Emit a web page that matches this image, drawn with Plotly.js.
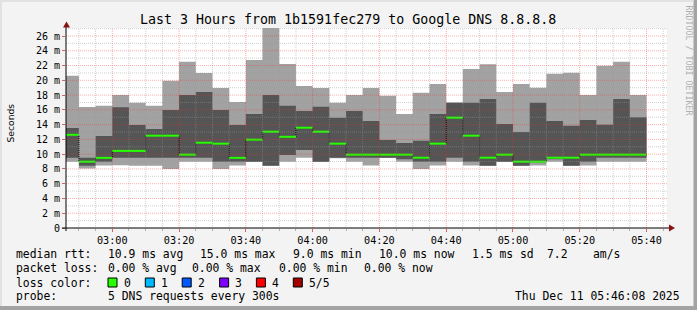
<!DOCTYPE html>
<html><head><meta charset="utf-8">
<script src="https://cdn.plot.ly/plotly-3.0.1.min.js"></script>
<style>html,body{margin:0;padding:0;background:#f3f3f3;}#chart{width:697px;height:310px;}</style>
</head><body><div id="chart"></div>
<script>
// ---- data ----
const graphStart = "2025-12-11 02:46:08";
const graphEnd = "2025-12-11 05:46:08";
const sampleClock = ["02:50","02:55","03:00","03:05","03:10","03:15","03:20","03:25","03:30","03:35",
  "03:40","03:45","03:50","03:55","04:00","04:05","04:10","04:15","04:20","04:25",
  "04:30","04:35","04:40","04:45","04:50","04:55","05:00","05:05","05:10","05:15",
  "05:20","05:25","05:30","05:35","05:40"];
// values in ms
const rttMin    = [8.98,8.06,8.46,8.50,8.44,8.44,8.00,8.98,8.98,7.99, 8.46,8.95,8.42,8.98,9.52,8.95,9.45,8.98,8.46,9.48, 8.98,8.00,8.46,8.98,8.46,8.42,8.95,8.42,8.46,8.98, 8.42,8.46,8.98,8.98,8.98];
const rttLow    = [9.52,8.42,8.98,9.52,9.52,9.52,9.52,9.52,9.52,8.98, 8.98,8.98,8.44,9.88,10.56,8.98,9.52,9.52,9.52,9.52, 9.30,8.98,8.98,9.52,8.98,8.44,8.98,8.44,8.90,9.30, 8.44,8.98,9.52,9.52,9.52];
const rttMedian = [12.62,8.98,9.50,10.44,10.44,12.50,12.50,9.93,11.55,11.42, 9.50,11.96,13.04,12.35,13.58,13.04,11.42,9.93,9.93,9.93, 9.93,9.52,11.42,14.94,12.50,9.52,9.93,8.98,8.98,9.52, 9.52,9.93,9.93,9.93,9.93];
const rttHigh   = [13.54,9.52,12.46,16.36,13.95,13.40,15.98,18.01,18.42,15.98, 13.95,15.44,18.01,16.54,15.84,16.41,14.94,15.84,14.49,11.91, 11.51,11.80,15.44,16.97,16.97,17.47,14.08,13.00,16.97,14.50, 13.84,14.62,13.97,17.47,15.01];
const rttMax    = [20.63,16.40,16.54,18.01,16.97,16.54,19.93,22.50,20.99,18.95, 17.06,22.75,27.11,22.21,19.23,18.96,16.97,18.01,18.96,17.90, 15.44,18.30,19.50,17.00,21.53,22.18,18.42,19.50,18.98,20.88, 21.03,18.01,21.98,22.52,18.01];
const yTickVals = [0,2,4,6,8,10,12,14,16,18,20,22,24,26];
const yTickText = ["0","2 m","4 m","6 m","8 m","10 m","12 m","14 m","16 m","18 m","20 m","22 m","24 m","26 m"];
const lossLabels = ["0","1","2","3","4","5/5"];
const lossColors = ["#26ff00","#00b8ff","#0059ff","#7e00ff","#ff0000","#a10000"];

// ---- build ----
const MONO = "DejaVu Sans Mono";
const day = "2025-12-11 ";
const edges = [graphStart].concat(sampleClock.map(t => day + t + ":00"));
const stepY = arr => arr.concat([arr[arr.length - 1]]);

const LIGHT = "#a2a2a2", DARK = "#555555";
const traces = [
  {x: edges, y: stepY(rttMin), mode: "lines", line: {width: 0, shape: "hv"}, hoverinfo: "skip"},
  {x: edges, y: stepY(rttMax), mode: "lines", line: {width: 0, shape: "hv"}, fill: "tonexty", fillcolor: LIGHT, hoverinfo: "skip"},
  {x: edges, y: stepY(rttLow), mode: "lines", line: {width: 0, shape: "hv"}, hoverinfo: "skip"},
  {x: edges, y: stepY(rttHigh), mode: "lines", line: {width: 0, shape: "hv"}, fill: "tonexty", fillcolor: DARK, hoverinfo: "skip"},
  {x: edges, y: stepY(rttMedian), mode: "lines", line: {width: 1, color: "#000", dash: "1px,1px", shape: "hv"}, hoverinfo: "skip"}
];
const gx = [], gy = [];
rttMedian.forEach((v, i) => { gx.push(edges[i], edges[i + 1], null); gy.push(v, v, null); });
traces.push({x: gx, y: gy, mode: "lines", line: {width: 2, color: lossColors[0]}, hoverinfo: "skip"});

// pixel helpers for decorations
const L = 66, R = 667, T = 28, B = 228;
const P = x => (x - L) / (R - L);
const Q = y => (B - y) / (B - T);

const MAJ = "rgba(255,40,40,0.38)", MIN = "rgba(150,150,150,0.45)";
const shapes = [];
// grid (drawn above the smoke, as rrdtool does)
const t0 = Date.UTC(2025, 11, 11, 2, 50), tEnd = Date.UTC(2025, 11, 11, 5, 46, 8);
for (let t = t0; t < tEnd; t += 300000) {
  const major = (new Date(t).getUTCMinutes() % 20) === 0;
  shapes.push({type: "line", layer: "above", xref: "x", yref: "paper", x0: t, x1: t, y0: 0, y1: 1,
    line: {color: major ? MAJ : MIN, width: 1, dash: "1px,1px"}});
}
for (let v = 1; v <= 27; v++) {
  shapes.push({type: "line", layer: "above", xref: "paper", yref: "y", x0: 0, x1: 1, y0: v, y1: v,
    line: {color: v % 2 === 0 ? MAJ : MIN, width: 1, dash: "1px,1px"}});
}
// axes and arrows
shapes.push({type: "line", xref: "paper", yref: "paper", x0: P(66), x1: P(66), y0: Q(231), y1: Q(25), line: {color: "#000", width: 1}});
shapes.push({type: "line", xref: "paper", yref: "paper", x0: P(62), x1: P(670), y0: Q(228), y1: Q(228), line: {color: "#000", width: 1}});
shapes.push({type: "path", xref: "paper", yref: "paper", fillcolor: "#8b1010", line: {width: 0},
  path: `M ${P(63)},${Q(27.5)} L ${P(66.5)},${Q(21.5)} L ${P(70)},${Q(27.5)} Z`});
shapes.push({type: "path", xref: "paper", yref: "paper", fillcolor: "#8b1010", line: {width: 0},
  path: `M ${P(669)},${Q(224.5)} L ${P(675)},${Q(228)} L ${P(669)},${Q(231.5)} Z`});
// frame
shapes.push({type: "rect", xref: "paper", yref: "paper", x0: P(693.5), x1: P(697), y0: Q(0), y1: Q(310), fillcolor: "#a3a3a3", line: {width: 0}});
shapes.push({type: "rect", xref: "paper", yref: "paper", x0: P(0), x1: P(697), y0: Q(306), y1: Q(310), fillcolor: "#a3a3a3", line: {width: 0}});
shapes.push({type: "rect", xref: "paper", yref: "paper", x0: P(0), x1: P(693.5), y0: Q(0), y1: Q(2), fillcolor: "#e2e2e2", line: {width: 0}});
shapes.push({type: "rect", xref: "paper", yref: "paper", x0: P(0), x1: P(2), y0: Q(0), y1: Q(306), fillcolor: "#e2e2e2", line: {width: 0}});

const ann = [];
const txt = (x, y, text, opts = {}) => ann.push(Object.assign({
  xref: "paper", yref: "paper", x: P(x), y: Q(y), text: text, showarrow: false,
  xanchor: "left", yanchor: "middle", borderpad: 0, borderwidth: 0,
  font: {family: MONO, size: 11.4, color: "#000"}}, opts));

txt(348, 19, "Last 3 Hours from 1b1591fec279 to Google DNS 8.8.8.8", {xanchor: "center", font: {family: MONO, size: 13.3, color: "#000"}});
txt(10, 123.5, "Seconds", {xanchor: "center", textangle: -90, font: {family: "DejaVu Sans", size: 9.2, color: "#000"}});
txt(688.5, 60, "RRDTOOL / TOBI OETIKER", {xanchor: "center", textangle: 90, font: {family: MONO, size: 8.3, color: "#b0b0b0"}});

// legend rows
const r1 = 254, r2 = 268, r3 = 282.5, r4 = 296;
txt(16, r1, "median rtt:");
txt(107.6, r1, "10.9 ms avg");
txt(199.6, r1, "15.0 ms max");
txt(292.9, r1, "9.0 ms min");
txt(379, r1, "10.0 ms now");
txt(472.4, r1, "1.5 ms sd");
txt(546.7, r1, "7.2");
txt(593.3, r1, "am/s");
txt(16, r2, "packet loss:");
txt(107.6, r2, "0.00 % avg");
txt(192.4, r2, "0.00 % max");
txt(279, r2, "0.00 % min");
txt(364.4, r2, "0.00 % now");
txt(16, r3, "loss color:");
const sqX = [108, 145.3, 182.2, 219.6, 256.4, 293.3];
lossLabels.forEach((lab, i) => {
  shapes.push({type: "rect", xref: "paper", yref: "paper", x0: P(sqX[i]), x1: P(sqX[i] + 9), y0: Q(278), y1: Q(287),
    fillcolor: lossColors[i], line: {color: "#000", width: 1}});
  txt(sqX[i] + 15.5, r3, lab);
});
txt(16, r4, "probe:");
txt(107.6, r4, "5 DNS requests every 300s");
txt(680, r4, "Thu Dec 11 05:46:08 2025", {xanchor: "right"});

const layout = {
  width: 697, height: 310,
  margin: {l: L, r: 697 - R, t: T, b: 310 - B, pad: 0},
  paper_bgcolor: "#f3f3f3", plot_bgcolor: "#ffffff",
  showlegend: false, hovermode: false,
  xaxis: {type: "date", range: [graphStart, graphEnd], tickformat: "%H:%M",
    tick0: "2025-12-11 03:00:00", dtick: 1200000,
    ticks: "outside", ticklen: 3, tickcolor: "#e06060", tickwidth: 1, ticklabelstandoff: -1.5,
    tickfont: {family: MONO, size: 10.2, color: "#000"},
    showgrid: false, zeroline: false, showline: false, fixedrange: true,
    minor: {dtick: 300000, tick0: "2025-12-11 03:00:00", ticks: "outside", ticklen: 2, tickcolor: "#b0b0b0", showgrid: false}},
  yaxis: {range: [0, 200 / 7.3846], tickmode: "array", tickvals: yTickVals, ticktext: yTickText,
    ticks: "outside", ticklen: 3, tickcolor: "#e06060", tickwidth: 1,
    tickfont: {family: MONO, size: 10, color: "#000"},
    showgrid: false, zeroline: false, showline: false, fixedrange: true},
  shapes: shapes, annotations: ann
};
Plotly.newPlot("chart", traces, layout, {staticPlot: true, displayModeBar: false});
</script></body></html>
